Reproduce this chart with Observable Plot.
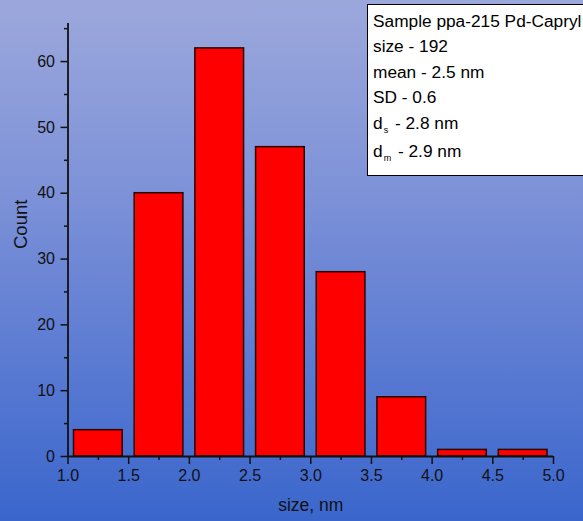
<!DOCTYPE html>
<html>
<head>
<meta charset="utf-8">
<script src="https://cdn.jsdelivr.net/npm/d3@7"></script>
<script src="https://cdn.jsdelivr.net/npm/@observablehq/plot@0.6"></script>
<style>
  html, body { margin: 0; padding: 0; overflow: hidden; }
  #wrap {
    position: relative; width: 583px; height: 521px; overflow: hidden;
    background: linear-gradient(to bottom, #9ca8dc 0%, #7f93d8 35%, #5a7ad2 70%, #3a66cc 100%);
    font-family: "Liberation Sans", Arial, sans-serif;
  }
  #info {
    position: absolute; left: 367px; top: 4px; width: 240px; height: 172px;
    background: #fff; border: 1.5px solid #000; box-sizing: border-box;
    padding: 4px 0 0 5px; font-size: 17.3px; color: #000; line-height: 25.4px;
  }
  #info sub { font-size: 9px; position: relative; top: 4px; vertical-align: baseline; margin-left: 1px; margin-right: 2px; }
</style>
</head>
<body>
<div id="wrap"><div id="chart"></div><div id="info"></div></div>
<script>
// Histogram data
const binStart = [1.0, 1.5, 2.0, 2.5, 3.0, 3.5, 4.0, 4.5];
const binWidth = 0.5;
const counts   = [4, 40, 62, 47, 28, 9, 1, 1];

const xTicks = [1.0, 1.5, 2.0, 2.5, 3.0, 3.5, 4.0, 4.5, 5.0];
const xMinorTicks = [1.25, 1.75, 2.25, 2.75, 3.25, 3.75, 4.25, 4.75];
const yTicks = [0, 10, 20, 30, 40, 50, 60];
const yMinorTicks = [5, 15, 25, 35, 45, 55, 65];

const xLabel = "size, nm";
const yLabel = "Count";
const infoLines = [
  ["Sample ppa-215 Pd-Capryl", ""],
  ["size - 192", ""],
  ["mean - 2.5 nm", ""],
  ["SD - 0.6", ""],
  ["d", "s", " - 2.8 nm"],
  ["d", "m", " - 2.9 nm"]
];

const data = binStart.map((s, i) => ({x1: s, x2: s + binWidth, y: counts[i]}));

const chart = Plot.plot({
  width: 583,
  height: 521,
  marginLeft: 67.5,
  marginRight: 30,
  marginTop: 15,
  marginBottom: 65,
  style: {background: "transparent", fontFamily: "Liberation Sans, Arial, sans-serif", color: "#111", overflow: "visible"},
  x: {domain: [1.0, 5.0]},
  y: {domain: [0, 67]},
  marks: [
    Plot.rectY(data, {x1: "x1", x2: "x2", y: "y", fill: "#ff0000", stroke: "#2a0000", strokeWidth: 1.5, insetLeft: 6, insetRight: 6}),
    Plot.axisY({ticks: yTicks, tickSize: 7, tickPadding: 6, fontSize: 16, label: null, strokeWidth: 1.5, tickFormat: d => d}),
    Plot.axisY({ticks: yMinorTicks, tickSize: 3.5, text: null, label: null, strokeWidth: 1.5}),
    Plot.axisX({ticks: xTicks, tickSize: 8, tickPadding: 5, fontSize: 16, label: null, strokeWidth: 1.5, tickFormat: d3.format(".1f")}),
    Plot.axisX({ticks: xMinorTicks, tickSize: 4, text: null, label: null, strokeWidth: 1.5}),
    Plot.ruleX([1.0], {y1: 0, y2: 67, stroke: "#111", strokeWidth: 1.8, insetBottom: -8}),
    Plot.ruleY([0], {x1: 1.0, x2: 5.0, stroke: "#111", strokeWidth: 1.8}),
    Plot.text([xLabel], {frameAnchor: "bottom", dy: 54, fontSize: 17.5, fill: "#111"}),
    Plot.text([yLabel], {frameAnchor: "left", dx: -47, dy: 13, rotate: -90, fontSize: 18.5, fill: "#111"})
  ]
});
document.getElementById("chart").appendChild(chart);

const info = document.getElementById("info");
infoLines.forEach(parts => {
  const div = document.createElement("div");
  if (parts.length === 3) {
    div.appendChild(document.createTextNode(parts[0]));
    const sub = document.createElement("sub");
    sub.textContent = parts[1];
    div.appendChild(sub);
    div.appendChild(document.createTextNode(parts[2]));
  } else {
    div.textContent = parts[0];
  }
  info.appendChild(div);
});
</script>
</body>
</html>
